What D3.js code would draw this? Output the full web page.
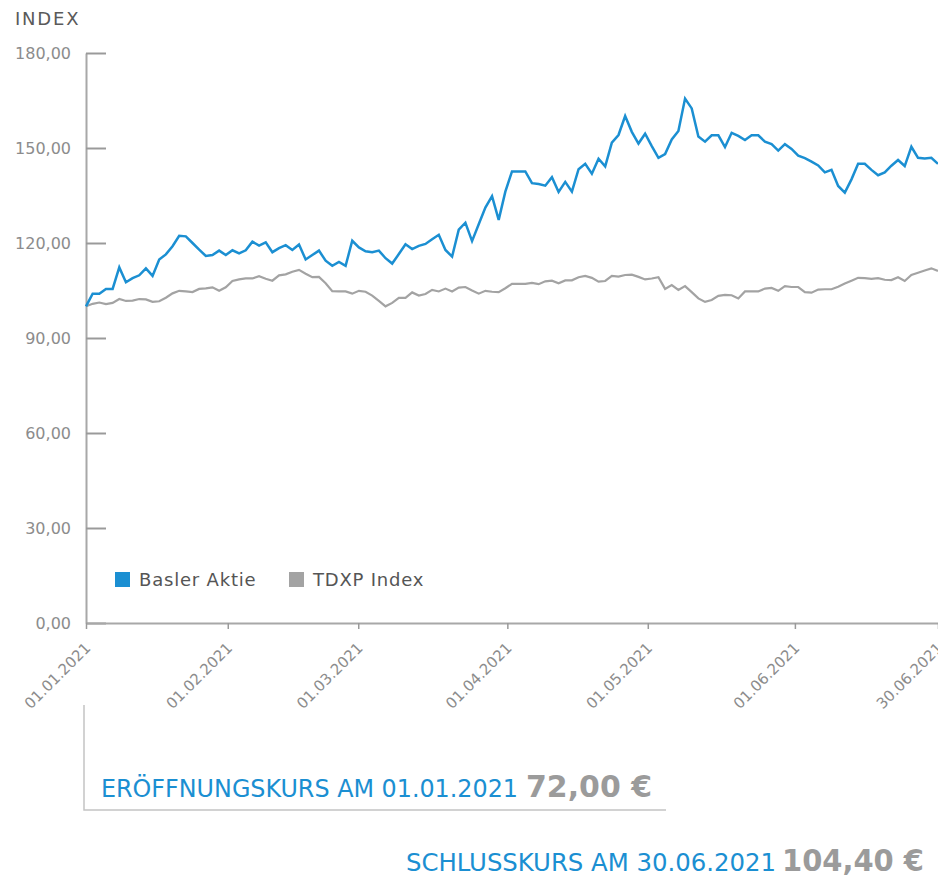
<!DOCTYPE html>
<html>
<head>
<meta charset="utf-8">
<script src="https://cdn.jsdelivr.net/npm/d3@7"></script>
<style>
  body { margin: 0; background: #fff; }
  svg { display: block; font-family: "DejaVu Sans", sans-serif; }
</style>
</head>
<body>
<script>
// Data (index, 01.01.2021 = 100), one point per trading day
const basler = [
  100.0, 104.0, 104.0, 105.5, 105.5, 112.3, 107.6, 108.9, 109.8, 112.0,
  109.6, 114.8, 116.4, 119.0, 122.3, 122.1, 120.0, 117.9, 115.9, 116.2,
  117.6, 116.2, 117.7, 116.7, 117.7, 120.4, 119.2, 120.2, 117.1, 118.4,
  119.3, 117.8, 119.5, 114.8, 116.2, 117.6, 114.4, 112.8, 114.0, 112.8,
  120.7, 118.6, 117.4, 117.1, 117.6, 115.2, 113.5, 116.5, 119.6, 118.1,
  119.1, 119.7, 121.2, 122.6, 117.8, 115.7, 124.2, 126.4, 120.6, 125.9,
  131.2, 134.8, 127.3, 136.2, 142.6, 142.6, 142.6, 138.9, 138.6, 138.1,
  140.8, 136.1, 139.3, 136.2, 143.3, 145.0, 141.9, 146.6, 144.2, 151.7,
  154.1, 160.1, 155.1, 151.4, 154.5, 150.6, 146.9, 148.1, 152.7, 155.4,
  165.6, 162.5, 153.6, 152.0, 154.0, 154.0, 150.3, 154.8, 153.8, 152.5,
  154.0, 154.0, 152.0, 151.2, 149.2, 151.2, 149.7, 147.6, 146.8, 145.7,
  144.5, 142.3, 143.1, 138.0, 135.9, 140.1, 145.0, 145.0, 143.1, 141.4,
  142.3, 144.4, 146.2, 144.3, 150.4, 146.9, 146.7, 146.9, 145.0
];
const tdxp = [
  100.0, 100.8, 101.2, 100.7, 101.1, 102.3, 101.7, 101.8, 102.3, 102.2,
  101.4, 101.6, 102.7, 104.1, 104.9, 104.7, 104.5, 105.5, 105.7, 106.0,
  104.9, 106.0, 108.0, 108.5, 108.8, 108.8, 109.5, 108.7, 108.1, 109.8,
  110.1, 110.9, 111.5, 110.3, 109.2, 109.3, 107.3, 104.8, 104.7, 104.7,
  104.0, 104.9, 104.6, 103.4, 101.7, 100.0, 101.1, 102.7, 102.7, 104.4,
  103.4, 103.9, 105.2, 104.7, 105.6, 104.7, 105.9, 106.1, 105.0, 104.0,
  104.9, 104.6, 104.5, 105.7, 107.1, 107.1, 107.1, 107.4, 107.0, 107.9,
  108.1, 107.3, 108.2, 108.2, 109.2, 109.6, 109.0, 107.8, 108.0, 109.6,
  109.4, 109.9, 110.0, 109.3, 108.5, 108.8, 109.2, 105.5, 106.7, 105.2,
  106.4, 104.5, 102.5, 101.4, 102.0, 103.3, 103.6, 103.5, 102.5, 104.7,
  104.7, 104.7, 105.6, 105.8, 104.9, 106.4, 106.1, 106.1, 104.5, 104.3,
  105.3, 105.4, 105.4, 106.2, 107.2, 108.1, 109.0, 108.9, 108.7, 108.9,
  108.4, 108.3, 109.2, 108.0, 109.9, 110.6, 111.3, 112.0, 111.2
];
const seriesNames = ["Basler Aktie", "TDXP Index"];
const seriesColors = ["#1b8fd2", "#a3a3a3"];

const yTicks = [0, 30, 60, 90, 120, 150, 180];
const xTickIndex = [0, 21.3, 40.9, 63.3, 84.4, 106.5, 128];
const xTickLabels = ["01.01.2021", "01.02.2021", "01.03.2021", "01.04.2021",
  "01.05.2021", "01.06.2021", "30.06.2021"];

const openLabel = "ERÖFFNUNGSKURS AM 01.01.2021";
const openValue = "72,00 €";
const closeLabel = "SCHLUSSKURS AM 30.06.2021";
const closeValue = "104,40 €";

// Layout
const width = 938, height = 882;
const blue = "#1b8fd2";

const de = d3.formatLocale({ decimal: ",", thousands: ".", grouping: [3], currency: ["", " €"] });
const fmt = de.format(".2f");

const svg = d3.select("body").append("svg")
  .attr("width", width)
  .attr("height", height);

const x = d3.scaleLinear().domain([0, basler.length - 1]).range([86, 938]);
const y = d3.scaleLinear().domain([0, 180]).range([623, 53]);

// Title
svg.append("text")
  .attr("x", 15).attr("y", 25)
  .attr("font-size", 18)
  .attr("letter-spacing", 1.8)
  .attr("fill", "#5a5a5a")
  .text("INDEX");

// Y axis
const yAxis = svg.append("g")
  .attr("transform", "translate(86,0)")
  .call(d3.axisLeft(y).tickValues(yTicks).tickFormat(fmt).tickSize(-20).tickSizeOuter(0).tickPadding(15));
yAxis.select(".domain").attr("stroke", "#a8a8a8").attr("stroke-width", 2);
yAxis.selectAll(".tick line").attr("stroke", "#9a9a9a").attr("stroke-width", 2);
yAxis.selectAll(".tick text")
  .attr("font-size", 16)
  .attr("font-family", "DejaVu Sans, sans-serif")
  .attr("fill", "#8c8c8c");

// X axis
const xAxis = svg.append("g")
  .attr("transform", "translate(0,623)")
  .call(d3.axisBottom(x).tickValues(xTickIndex).tickFormat((d, i) => xTickLabels[i]).tickSize(6).tickSizeOuter(0));
xAxis.select(".domain").attr("stroke", "#a8a8a8").attr("stroke-width", 2);
xAxis.selectAll(".tick line").attr("stroke", "#9a9a9a").attr("stroke-width", 1.5);
xAxis.selectAll(".tick text")
  .attr("x", 0).attr("y", 0).attr("dy", 0)
  .attr("transform", "translate(5,26) rotate(-45)")
  .attr("text-anchor", "end")
  .attr("font-size", 15)
  .attr("font-family", "DejaVu Sans, sans-serif")
  .attr("fill", "#8c8c8c");

// Lines (index drawn first, share on top)
const line = d3.line().x((d, i) => x(i)).y(d => y(d));
[tdxp, basler].forEach((s, k) => {
  svg.append("path")
    .datum(s)
    .attr("fill", "none")
    .attr("stroke", k === 0 ? seriesColors[1] : seriesColors[0])
    .attr("stroke-width", k === 0 ? 2.2 : 2.5)
    .attr("d", line);
});

// Legend
const legendX = [115, 289];
seriesNames.forEach((name, i) => {
  svg.append("rect")
    .attr("x", legendX[i]).attr("y", 572)
    .attr("width", 15).attr("height", 15)
    .attr("fill", seriesColors[i]);
  svg.append("text")
    .attr("x", legendX[i] + 24).attr("y", 586)
    .attr("font-size", 18)
    .attr("letter-spacing", 0.8)
    .attr("fill", "#555")
    .text(name);
});

// Opening / closing price box
svg.append("path")
  .attr("d", "M84,705V810H666")
  .attr("fill", "none")
  .attr("stroke", "#c4c4c4")
  .attr("stroke-width", 1.5);

function priceLine(label, value, lx, lw, vx, vw, baseline) {
  svg.append("text")
    .attr("x", lx).attr("y", baseline)
    .attr("font-size", 24)
    .attr("font-stretch", "condensed")
    .attr("fill", blue)
    .attr("textLength", lw)
    .attr("lengthAdjust", "spacingAndGlyphs")
    .text(label);
  svg.append("text")
    .attr("x", vx).attr("y", baseline)
    .attr("font-size", 31)
    .attr("font-weight", "bold")
    .attr("fill", "#9b9b9b")
    .attr("textLength", vw)
    .attr("lengthAdjust", "spacingAndGlyphs")
    .text(value);
}
priceLine(openLabel, openValue, 101, 417, 526, 126, 797);
priceLine(closeLabel, closeValue, 406, 370, 782, 142, 871);
</script>
</body>
</html>
